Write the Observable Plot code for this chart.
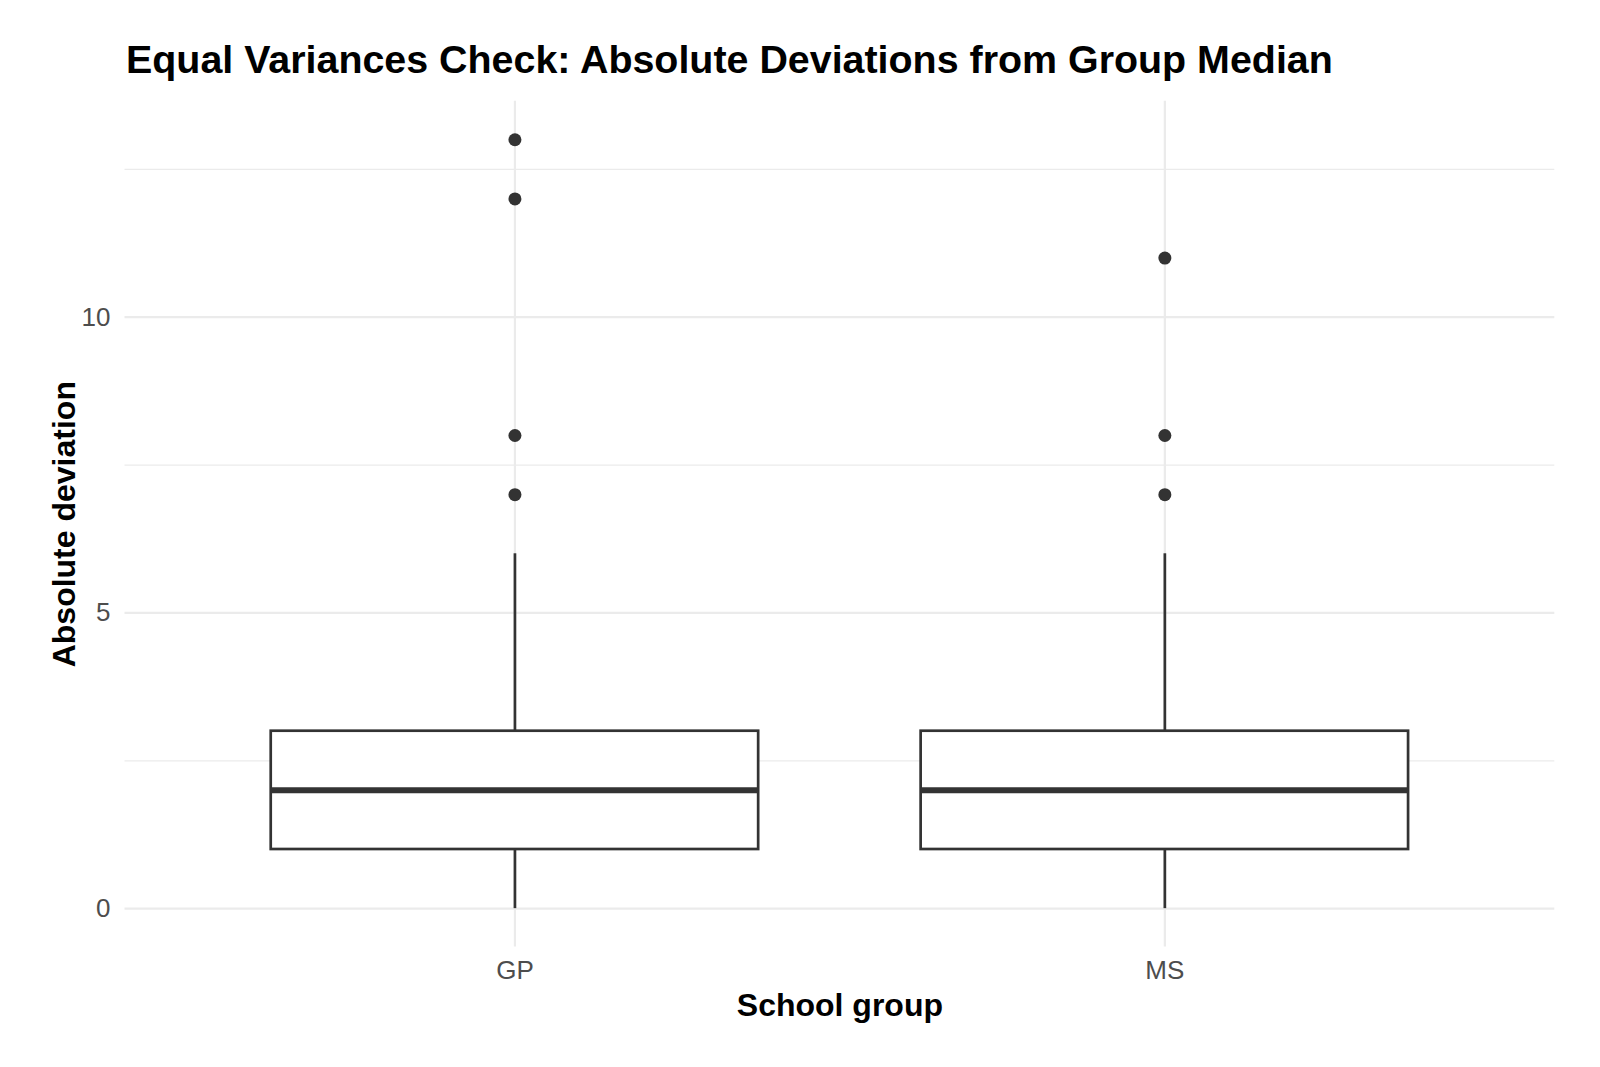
<!DOCTYPE html>
<html>
<head>
<meta charset="utf-8">
<script src="https://cdn.jsdelivr.net/npm/d3@7"></script>
<script src="https://cdn.jsdelivr.net/npm/@observablehq/plot@0.6"></script>
<style>
  html, body { margin: 0; padding: 0; background: #ffffff; }
  #chart { position: relative; width: 1600px; height: 1067px; font-family: "Liberation Sans", Arial, Helvetica, sans-serif; }
  #title { position: relative; height: 90px; }
  #title span { position: absolute; left: 126px; top: 37px; font-size: 39.4px; font-weight: bold; color: #000; white-space: nowrap; line-height: normal; }
  svg { display: block; }
</style>
</head>
<body>
<div id="chart">
  <div id="title"><span>Equal Variances Check: Absolute Deviations from Group Median</span></div>
</div>
<script>
// Absolute deviations from each school's median, summarised per group
const groups = ["GP", "MS"];
const whiskerLow = [0, 0];
const q1 = [1, 1];
const median = [2, 2];
const q3 = [3, 3];
const whiskerHigh = [6, 6];

// Points beyond the whiskers
const outlierGroup = ["GP", "GP", "GP", "GP", "MS", "MS", "MS"];
const outlierValue = [7, 8, 12, 13, 7, 8, 11];

const yTicks = [0, 5, 10];
const yMinorTicks = [2.5, 7.5, 12.5];

const boxes = groups.map((g, i) => ({
  group: g, lo: whiskerLow[i], q1: q1[i], med: median[i], q3: q3[i], hi: whiskerHigh[i]
}));
const outliers = outlierGroup.map((g, i) => ({group: g, value: outlierValue[i]}));

const ink = "#333333";
const gridColor = "#EBEBEB";

const chart = Plot.plot({
  width: 1600,
  height: 977,
  marginTop: 10.8,
  marginBottom: 120.4,
  marginLeft: 124.5,
  marginRight: 45.7,
  style: {
    fontFamily: '"Liberation Sans", Arial, Helvetica, sans-serif',
    fontSize: "26px",
    color: "#4D4D4D",
    background: "#ffffff",
    overflow: "visible"
  },
  x: {type: "band", domain: groups, paddingInner: 0.25, paddingOuter: 0.225, round: false},
  y: {domain: [-0.65, 13.65]},
  marks: [
    // panel grid
    Plot.ruleY(yMinorTicks, {stroke: gridColor, strokeWidth: 1.2}),
    Plot.ruleY(yTicks, {stroke: gridColor, strokeWidth: 2.2}),
    Plot.gridX({stroke: gridColor, strokeOpacity: 1, strokeWidth: 2.2}),
    // axes
    Plot.axisY(yTicks, {tickSize: 0, tickPadding: 14.5, tickFormat: (d) => String(d), label: null, fill: "#4D4D4D", fontSize: 26}),
    Plot.axisX({tickSize: 0, tickPadding: 13, label: null, fill: "#4D4D4D", fontSize: 26}),
    // whiskers
    Plot.ruleX(boxes, {x: "group", y1: "lo", y2: "q1", stroke: ink, strokeWidth: 2.7}),
    Plot.ruleX(boxes, {x: "group", y1: "q3", y2: "hi", stroke: ink, strokeWidth: 2.7}),
    // interquartile boxes
    Plot.barY(boxes, {x: "group", y1: "q1", y2: "q3", fill: "#ffffff", stroke: ink, strokeWidth: 2.7}),
    // medians
    Plot.tickY(boxes, {x: "group", y: "med", stroke: ink, strokeWidth: 6}),
    // outliers
    Plot.dot(outliers, {x: "group", y: "value", r: 6.5, fill: ink, stroke: null}),
    // axis titles
    Plot.text(["School group"], {frameAnchor: "bottom", textAnchor: "middle", lineAnchor: "middle", dy: 59, fontSize: 32, fontWeight: "bold", fill: "#000000"}),
    Plot.text(["Absolute deviation"], {frameAnchor: "left", textAnchor: "middle", lineAnchor: "middle", dx: -60.5, rotate: -90, fontSize: 32, fontWeight: "bold", fill: "#000000"})
  ]
});

document.getElementById("chart").appendChild(chart);
</script>
</body>
</html>
